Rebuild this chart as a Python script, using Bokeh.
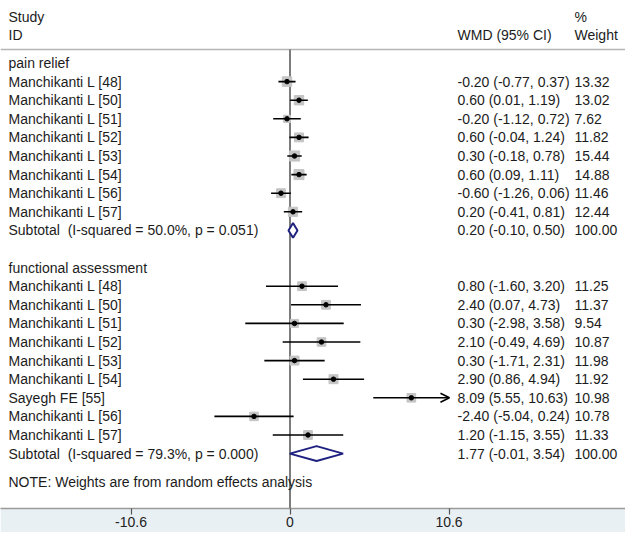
import numpy as np
from bokeh.plotting import figure
from bokeh.models import ColumnDataSource, Range1d, FixedTicker, Arrow, OpenHead
from bokeh.core.properties import value
from bokeh.embed import file_html
from bokeh.resources import INLINE

# ---------------- data ----------------
group_names = ["pain relief", "functional assessment"]

pain_studies = ["Manchikanti L [48]", "Manchikanti L [50]", "Manchikanti L [51]",
                "Manchikanti L [52]", "Manchikanti L [53]", "Manchikanti L [54]",
                "Manchikanti L [56]", "Manchikanti L [57]"]
pain_est = [-0.20, 0.60, -0.20, 0.60, 0.30, 0.60, -0.60, 0.20]
pain_lo = [-0.77, 0.01, -1.12, -0.04, -0.18, 0.09, -1.26, -0.41]
pain_hi = [0.37, 1.19, 0.72, 1.24, 0.78, 1.11, 0.06, 0.81]
pain_w = [13.32, 13.02, 7.62, 11.82, 15.44, 14.88, 11.46, 12.44]
pain_sub = [0.20, -0.10, 0.50]
pain_sub_label = "Subtotal  (I-squared = 50.0%, p = 0.051)"

func_studies = ["Manchikanti L [48]", "Manchikanti L [50]", "Manchikanti L [51]",
                "Manchikanti L [52]", "Manchikanti L [53]", "Manchikanti L [54]",
                "Sayegh FE [55]", "Manchikanti L [56]", "Manchikanti L [57]"]
func_est = [0.80, 2.40, 0.30, 2.10, 0.30, 2.90, 8.09, -2.40, 1.20]
func_lo = [-1.60, 0.07, -2.98, -0.49, -1.71, 0.86, 5.55, -5.04, -1.15]
func_hi = [3.20, 4.73, 3.58, 4.69, 2.31, 4.94, 10.63, 0.24, 3.55]
func_w = [11.25, 11.37, 9.54, 10.87, 11.98, 11.92, 10.98, 10.78, 11.33]
func_sub = [1.77, -0.01, 3.54]
func_sub_label = "Subtotal  (I-squared = 79.3%, p = 0.000)"

tick_values = [-10.6, 0, 10.6]
tick_labels = ["-10.6", "0", "10.6"]
null_value = 0
note_text = "NOTE: Weights are from random effects analysis"
header_left = ["Study", "ID"]
header_mid = "WMD (95% CI)"
header_right = ["%", "Weight"]

# ---------------- layout helpers ----------------
W, H = 625, 532
FRAME_H = 508
ZERO_PX = 289.5          # pixel (inside figure) of x = 0
PX_PER_UNIT = 15.0
ROW0_PX = 62.5           # pixel from top of row 0
ROW_PX = 18.6


def xd(px):
    return (px - ZERO_PX) / PX_PER_UNIT


Y_BOTTOM = (FRAME_H - ROW0_PX) / ROW_PX
Y_TOP = -ROW0_PX / ROW_PX

FONT = value("Liberation Sans")
TXT = "#1c1c1c"
FS = "14px"

p = figure(width=W, height=H, output_backend="svg", toolbar_location=None,
           x_range=Range1d(xd(0), xd(W)),
           y_range=Range1d(Y_BOTTOM, Y_TOP),
           y_axis_location=None, x_axis_location="below",
           min_border_left=0, min_border_right=0, min_border_top=0,
           min_border_bottom=H - FRAME_H)
p.outline_line_color = None
p.xgrid.visible = False
p.ygrid.visible = False
p.background_fill_color = "white"
p.border_fill_color = "#e9f0f3"

ax = p.xaxis[0]
ax.ticker = FixedTicker(ticks=tick_values, minor_ticks=[])
ax.major_label_overrides = {v: l for v, l in zip(tick_values, tick_labels)}
ax.axis_line_color = "#9a9a9a"
ax.axis_line_width = 1.5
ax.major_tick_line_color = "#555555"
ax.major_tick_line_width = 1.2
ax.major_tick_out = 6
ax.major_tick_in = 0
ax.minor_tick_line_color = None
ax.major_label_text_font = "Liberation Sans"
ax.major_label_text_font_size = FS
ax.major_label_text_color = "#222222"
ax.major_label_standoff = 2

# ---------------- build rows ----------------
groups = [
    (group_names[0], pain_studies, pain_est, pain_lo, pain_hi, pain_w, pain_sub, pain_sub_label),
    (group_names[1], func_studies, func_est, func_lo, func_hi, func_w, func_sub, func_sub_label),
]

lab_y, lab_t = [], []
col_y, col_t, wt_t = [], [], []
st = dict(y=[], est=[], lo=[], hi=[], w=[])
dia_xs, dia_ys = [], []
row = 0
for gname, studies, est, lo, hi, w, sub, sublab in groups:
    lab_y.append(row); lab_t.append(gname)
    row += 1
    for s, e, l, h, ww in zip(studies, est, lo, hi, w):
        lab_y.append(row); lab_t.append(s)
        col_y.append(row); col_t.append(f"{e:.2f} ({l:.2f}, {h:.2f})"); wt_t.append(f"{ww:.2f}")
        st["y"].append(row); st["est"].append(e); st["lo"].append(l); st["hi"].append(h); st["w"].append(ww)
        row += 1
    lab_y.append(row); lab_t.append(sublab.replace("  ", " \u00a0"))
    col_y.append(row); col_t.append(f"{sub[0]:.2f} ({sub[1]:.2f}, {sub[2]:.2f})"); wt_t.append("100.00")
    dia_xs.append([sub[1], sub[0], sub[2], sub[0]])
    dia_ys.append([row, row - 0.4, row, row + 0.4])
    row += 2
note_row = row - 2 + 1.5
axis_max = max(tick_values)
axis_min = min(tick_values)

# header rule and null line
header_row = -0.73
p.segment(x0=[xd(0)], x1=[xd(W)], y0=[header_row], y1=[header_row],
          line_color="#b5b5b5", line_width=1.5)
p.segment(x0=[null_value], x1=[null_value], y0=[header_row], y1=[Y_BOTTOM],
          line_color="#6e6e6e", line_width=1.8)

# study CIs
sd = ColumnDataSource(dict(y=st["y"], est=st["est"], lo=st["lo"], hi=st["hi"],
                           size=[2.6 * np.sqrt(v) for v in st["w"]]))
p.scatter(x="est", y="y", size="size", marker="square", source=sd,
          fill_color="#c4c4c4", line_color="#c4c4c4")
inside = [i for i in range(len(st["y"])) if st["hi"][i] <= axis_max and st["lo"][i] >= axis_min]
outside = [i for i in range(len(st["y"])) if i not in inside]
si = ColumnDataSource(dict(y=[st["y"][i] for i in inside], lo=[st["lo"][i] for i in inside],
                           hi=[st["hi"][i] for i in inside]))
p.segment(x0="lo", x1="hi", y0="y", y1="y", source=si, line_color="black", line_width=1.6)
so = ColumnDataSource(dict(y=[st["y"][i] for i in outside], lo=[st["lo"][i] for i in outside],
                           hi=[st["hi"][i] for i in outside]))
p.add_layout(Arrow(end=OpenHead(size=9, line_width=1.6, line_color="black"),
                   x_start="lo", x_end="hi", y_start="y", y_end="y", source=so,
                   line_color="black", line_width=1.6))
p.scatter(x="est", y="y", size=4.5, marker="circle", source=sd,
          fill_color="black", line_color="black")

# subtotal diamonds
p.patches(xs=dia_xs, ys=dia_ys, fill_color="white", line_color="#1f2180", line_width=2)

# texts
LEFT_PX, MID_PX, RIGHT_PX = 8, 457, 574
p.text(x=[xd(LEFT_PX)] * len(lab_y), y=lab_y, text=lab_t, text_font=FONT, text_font_size=FS,
       text_color=TXT, text_baseline="middle", text_align="left")
p.text(x=[xd(MID_PX)] * len(col_y), y=col_y, text=col_t, text_font=FONT, text_font_size=FS,
       text_color=TXT, text_baseline="middle", text_align="left")
p.text(x=[xd(RIGHT_PX)] * len(col_y), y=col_y, text=wt_t, text_font=FONT, text_font_size=FS,
       text_color=TXT, text_baseline="middle", text_align="left")
p.text(x=[xd(LEFT_PX)], y=[note_row], text=[note_text], text_font=FONT, text_font_size=FS,
       text_color=TXT, text_baseline="middle", text_align="left")
p.text(x=[xd(LEFT_PX)] * 2, y=[-2.46, -1.48], text=header_left, text_font=FONT, text_font_size=FS,
       text_color=TXT, text_baseline="middle", text_align="left")
p.text(x=[xd(MID_PX)], y=[-1.48], text=[header_mid], text_font=FONT, text_font_size=FS,
       text_color=TXT, text_baseline="middle", text_align="left")
p.text(x=[xd(RIGHT_PX)] * 2, y=[-2.46, -1.48], text=header_right, text_font=FONT, text_font_size=FS,
       text_color=TXT, text_baseline="middle", text_align="left")

open("out.html", "w").write(file_html(p, INLINE))
